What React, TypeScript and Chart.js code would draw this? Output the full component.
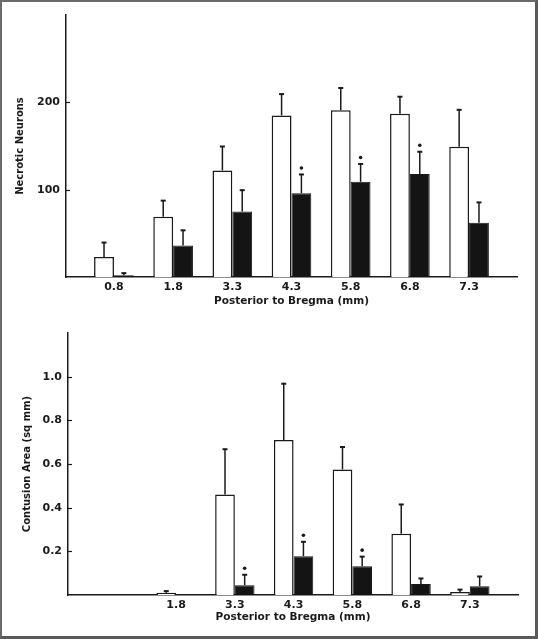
import React, { useEffect, useRef } from "react";
import { Chart, registerables } from "chart.js";

Chart.register(...registerables);

// ---------- Data ----------
const topCategories = ["0.8", "1.8", "3.3", "4.3", "5.8", "6.8", "7.3"];
const topWhite = [23, 69, 122, 185, 191, 187, 149];
const topWhiteErr = [17, 19, 28, 25, 26, 20, 43];
const topBlack = [2, 36, 75, 96, 109, 118, 62];
const topBlackErr = [3, 18, 25, 22, 21, 26, 24];
const topBlackSig = [false, false, false, true, true, true, false];
const topYTicks = [100, 200];

const bottomCategories = ["", "1.8", "3.3", "4.3", "5.8", "6.8", "7.3"];
const bottomWhite = [null, 0.01, 0.46, 0.71, 0.575, 0.28, 0.014];
const bottomWhiteErr = [null, 0.01, 0.21, 0.26, 0.105, 0.137, 0.013];
const bottomBlack = [null, 0, 0.045, 0.178, 0.132, 0.05, 0.04];
const bottomBlackErr = [null, 0, 0.05, 0.068, 0.046, 0.028, 0.047];
const bottomBlackSig = [false, false, true, true, true, false, false];
const bottomYTicks = [0.2, 0.4, 0.6, 0.8, 1.0];

const FONT = "'DejaVu Sans', sans-serif";
const INK = "#1a1a1a";

type PanelCfg = {
  categories: string[];
  white: (number | null)[];
  whiteErr: (number | null)[];
  black: (number | null)[];
  blackErr: (number | null)[];
  sig: boolean[];
  yTicks: number[];
  yMax: number;
  yTitle: string;
  yFmt: (v: number) => string;
  xMin: number;
  xMax: number;
  yAxisWidth: number;
  yTitlePad: number;
  padTop: number;
  padRight: number;
  xAxisHeight: number;
  xTitlePad: number;
};

const errorPlugin = {
  id: "errorBars",
  afterDatasetsDraw(chart: any) {
    const ctx = chart.ctx;
    const yScale = chart.scales.y;
    const errs = chart.options.plugins.errorBars;
    chart.data.datasets.forEach((ds: any, di: number) => {
      const meta = chart.getDatasetMeta(di);
      const errArr = errs.errors[di];
      meta.data.forEach((el: any, i: number) => {
        const v = ds.data[i].y;
        const e = errArr[i];
        if (v == null || e == null || e <= 0) return;
        const x = el.x;
        const yTop = yScale.getPixelForValue(v + e);
        ctx.save();
        ctx.strokeStyle = INK;
        ctx.lineWidth = 1.5;
        ctx.beginPath();
        ctx.moveTo(x, el.y);
        ctx.lineTo(x, yTop);
        ctx.stroke();
        ctx.lineWidth = 2;
        ctx.beginPath();
        ctx.moveTo(x - 2.5, yTop + 0.5);
        ctx.lineTo(x + 2.5, yTop + 0.5);
        ctx.stroke();
        if (di === 1 && errs.sig[i]) {
          ctx.fillStyle = INK;
          ctx.beginPath();
          ctx.arc(x, yTop - 6, 1.8, 0, Math.PI * 2);
          ctx.fill();
        }
        ctx.restore();
      });
    });
    // inward y tick marks
    const ctx2 = chart.ctx;
    const left = chart.chartArea.left;
    ctx2.save();
    ctx2.strokeStyle = INK;
    ctx2.lineWidth = 1.2;
    errs.yTicks.forEach((t: number) => {
      const py = Math.round(yScale.getPixelForValue(t)) + 0.5;
      ctx2.beginPath();
      ctx2.moveTo(left, py);
      ctx2.lineTo(left + 4, py);
      ctx2.stroke();
    });
    ctx2.restore();
  },
};

function Panel({ cfg, width, height }: { cfg: PanelCfg; width: number; height: number }) {
  const ref = useRef<HTMLCanvasElement | null>(null);
  useEffect(() => {
    if (!ref.current) return;
    const toPts = (arr: (number | null)[]) =>
      arr.map((v, i) => ({ x: i, y: v }));
    const chart = new Chart(ref.current, {
      type: "bar",
      data: {
        datasets: [
          {
            label: "white",
            data: toPts(cfg.white) as any,
            backgroundColor: "#ffffff",
            borderColor: INK,
            borderWidth: 1.5,
          },
          {
            label: "black",
            data: toPts(cfg.black) as any,
            backgroundColor: "#141414",
            borderColor: INK,
            borderWidth: 1,
          },
        ],
      },
      options: {
        responsive: false,
        animation: false,
        layout: { padding: { left: 0, top: cfg.padTop, right: cfg.padRight, bottom: 0 } },
        datasets: {
          bar: { categoryPercentage: 0.67, barPercentage: 1.0, grouped: true },
        },
        plugins: {
          legend: { display: false },
          tooltip: { enabled: false },
          errorBars: {
            errors: [cfg.whiteErr, cfg.blackErr],
            sig: cfg.sig,
            yTicks: cfg.yTicks,
          },
        } as any,
        scales: {
          x: {
            type: "linear",
            offset: false,
            min: cfg.xMin,
            max: cfg.xMax,
            grid: { display: false, drawTicks: false, offset: false },
            border: { display: true, color: INK, width: 1.5 },
            afterBuildTicks: (scale: any) => {
              scale.ticks = cfg.categories.map((_, i) => ({ value: i }));
            },
            afterFit: (scale: any) => {
              scale.height = cfg.xAxisHeight;
            },
            ticks: {
              autoSkip: false,
              maxRotation: 0,
              padding: 4,
              color: INK,
              font: { family: FONT, size: 11, weight: "bold" },
              callback: (v: any) => cfg.categories[Math.round(v)] ?? "",
            },
            title: {
              display: true,
              text: "Posterior to Bregma (mm)",
              color: INK,
              font: { family: FONT, size: 10.5, weight: "bold" },
              padding: { top: 0, bottom: cfg.xTitlePad },
            },
          },
          y: {
            type: "linear",
            min: 0,
            max: cfg.yMax,
            grid: { display: false, drawTicks: false },
            border: { display: true, color: INK, width: 1.5 },
            afterBuildTicks: (scale: any) => {
              scale.ticks = cfg.yTicks.map((v) => ({ value: v }));
            },
            afterFit: (scale: any) => {
              scale.width = cfg.yAxisWidth;
            },
            ticks: {
              padding: 6,
              color: INK,
              font: { family: FONT, size: 11, weight: "bold" },
              callback: (v: any) => cfg.yFmt(Number(v)),
            },
            title: {
              display: true,
              text: cfg.yTitle,
              color: INK,
              font: { family: FONT, size: 10, weight: "bold" },
              padding: { top: cfg.yTitlePad, bottom: 0 },
            },
          },
        },
      },
      plugins: [errorPlugin],
    } as any);
    return () => chart.destroy();
  }, [cfg]);
  return <canvas ref={ref} width={width} height={height} style={{ width, height, display: "block" }} />;
}

const topCfg: PanelCfg = {
  categories: topCategories,
  white: topWhite,
  whiteErr: topWhiteErr,
  black: topBlack,
  blackErr: topBlackErr,
  sig: topBlackSig,
  yTicks: topYTicks,
  yMax: 300,
  yTitle: "Necrotic Neurons",
  yFmt: (v) => String(v),
  xMin: -0.81,
  xMax: 6.81,
  yAxisWidth: 66,
  yTitlePad: 14,
  padTop: 15,
  padRight: 21,
  xAxisHeight: 43,
  xTitlePad: 12,
};

const bottomCfg: PanelCfg = {
  categories: bottomCategories,
  white: bottomWhite,
  whiteErr: bottomWhiteErr,
  black: bottomBlack,
  blackErr: bottomBlackErr,
  sig: bottomBlackSig,
  yTicks: bottomYTicks,
  yMax: 1.2,
  yTitle: "Contusion Area (sq mm)",
  yFmt: (v) => v.toFixed(1),
  xMin: -0.84,
  xMax: 6.82,
  yAxisWidth: 68,
  yTitlePad: 21,
  padTop: 13,
  padRight: 20,
  xAxisHeight: 44,
  xTitlePad: 15,
};

export default function App() {
  return (
    <div
      style={{
        position: "absolute",
        left: 0,
        top: 0,
        width: 538,
        height: 639,
        background: "#ffffff",
        overflow: "hidden",
      }}
    >
      <div style={{ position: "absolute", left: 0, top: 0 }}>
        <Panel cfg={topCfg} width={538} height={320} />
      </div>
      <div style={{ position: "absolute", left: 0, top: 320 }}>
        <Panel cfg={bottomCfg} width={538} height={319} />
      </div>
      <div
        style={{
          position: "absolute",
          left: 0,
          top: 0,
          width: 538,
          height: 639,
          boxSizing: "border-box",
          borderTop: "2px solid #6a6a6a",
          borderLeft: "2px solid #6a6a6a",
          borderRight: "3px solid #5a5a5a",
          borderBottom: "3px solid #5a5a5a",
          pointerEvents: "none",
        }}
      />
    </div>
  );
}
